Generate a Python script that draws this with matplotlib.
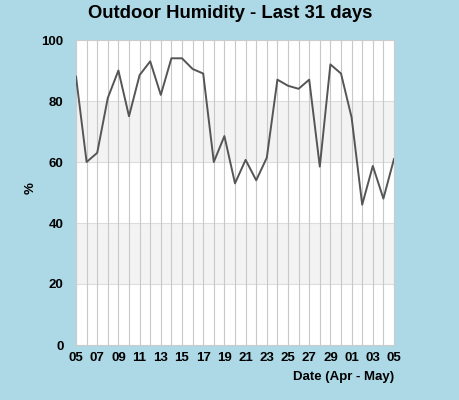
import matplotlib
matplotlib.use("Agg")
import matplotlib.pyplot as plt

days = ["05", "06", "07", "08", "09", "10", "11", "12", "13", "14", "15", "16", "17", "18",
        "19", "20", "21", "22", "23", "24", "25", "26", "27", "28", "29", "30",
        "01", "02", "03", "04", "05"]
humidity = [88, 60, 63, 81, 90, 75, 88.5, 93, 82, 94, 94, 90.5, 89, 60, 68.5, 53,
            60.7, 54, 61.4, 87, 85, 84, 87, 58.5, 92, 89, 74.6, 46, 58.7, 48, 61]
yticks = [0, 20, 40, 60, 80, 100]

plt.rcParams['font.family'] = ['Liberation Sans', 'DejaVu Sans']
bg = '#add8e6'
fig = plt.figure(figsize=(4.6, 4.0), dpi=100, facecolor=bg)
ax = fig.add_axes([76/460, 55/400, 318/460, 305/400])
ax.set_facecolor('white')

x = list(range(len(days)))
ax.axhspan(20, 40, color='#f3f3f3', zorder=0, lw=0)
ax.axhspan(60, 80, color='#f3f3f3', zorder=0, lw=0)
for yv in yticks[1:-1]:
    ax.axhline(yv, color='#dddddd', lw=0.8, zorder=1)
for xv in x:
    ax.axvline(xv, color='#c8c8c8', lw=0.8, zorder=1)

ax.plot(x, humidity, color='#555555', lw=1.4, zorder=3)

ax.set_xlim(0, len(days) - 1)
ax.set_ylim(0, 100)
ax.set_xticks(x[::2])
ax.set_xticklabels(days[::2], fontsize=9.5, fontweight='bold')
ax.set_yticks(yticks)
ax.set_yticklabels([str(v) for v in yticks], fontsize=9.5, fontweight='bold')
ax.tick_params(length=0, pad=5)
ax.tick_params(axis='y', pad=9)
for s in ax.spines.values():
    s.set_color('#cccccc')
    s.set_linewidth(0.8)

fig.text(31/460, 1 - 188/400, '%', rotation=90, ha='center', va='center',
         fontsize=9.5, fontweight='bold')
ax.set_xlabel('Date (Apr - May)', fontsize=9.5, fontweight='bold', loc='right', labelpad=5)
fig.text(230/460, 1 - 13/400, 'Outdoor Humidity - Last 31 days', ha='center', va='center',
         fontsize=13.3, fontweight='bold')

fig.savefig('out.png', dpi=100, facecolor=bg)
